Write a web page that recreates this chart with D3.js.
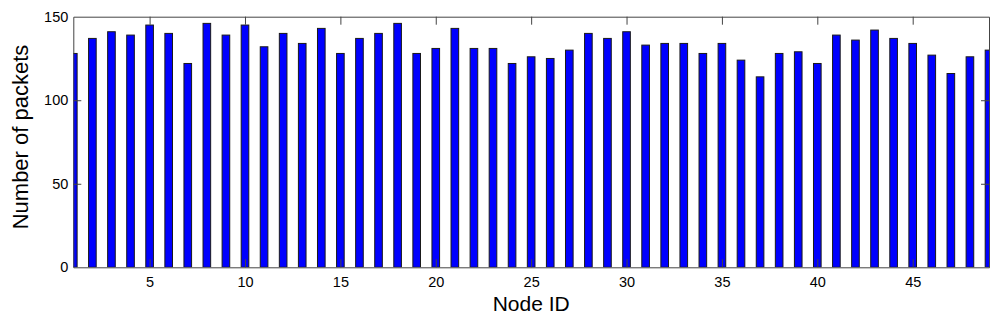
<!DOCTYPE html>
<html>
<head>
<meta charset="utf-8">
<script src="https://cdn.jsdelivr.net/npm/d3@7"></script>
<style>
  body { margin: 0; background: #fff; }
  text { font-family: Arial, "Liberation Sans", sans-serif; fill: #000; }
</style>
</head>
<body>
<svg width="1000" height="325"></svg>
<script>
// node ids and packet counts
var nodeIds = d3.range(1, 50);
var packets = [128,137,141,139,145,140,122,146,139,145,
               132,140,134,143,128,137,140,146,128,131,
               143,131,131,122,126,125,130,140,137,141,
               133,134,134,128,134,124,114,128,129,122,
               139,136,142,137,134,127,116,126,130];
var xTicks = [5,10,15,20,25,30,35,40,45];
var yTicks = [0,50,100,150];

var svg = d3.select("svg"),
    margin = {left: 73.3, right: 11, top: 16.7, bottom: 57.7},
    width = 1000 - margin.left - margin.right,
    height = 325 - margin.top - margin.bottom,
    tickLen = 8;

var x = d3.scaleLinear().domain([1, 49]).range([0, width]);
var y = d3.scaleLinear().domain([0, 150]).range([height, 0]);
var barW = (x(2) - x(1)) * 0.4;

var g = svg.append("g").attr("transform", "translate(" + margin.left + "," + margin.top + ")");

g.append("clipPath").attr("id", "plotclip")
  .append("rect").attr("width", width).attr("height", height);

var data = nodeIds.map(function(id, i) { return {id: id, v: packets[i]}; });

g.append("g").attr("clip-path", "url(#plotclip)")
  .selectAll("rect")
  .data(data)
  .enter().append("rect")
  .attr("x", function(d) { return x(d.id) - barW / 2; })
  .attr("y", function(d) { return y(d.v); })
  .attr("width", barW)
  .attr("height", function(d) { return y(0) - y(d.v); })
  .attr("fill", "#0000ff")
  .attr("stroke", "#1a1a1a")
  .attr("stroke-width", 1);

// axes - matlab style box with inward ticks
var xb = g.append("g").attr("transform", "translate(0," + height + ")")
  .call(d3.axisBottom(x).tickValues(xTicks).tickSizeInner(-tickLen).tickSizeOuter(0).tickPadding(9.5));
var xt = g.append("g")
  .call(d3.axisTop(x).tickValues(xTicks).tickSizeInner(-tickLen).tickSizeOuter(0).tickFormat(""));
var yl = g.append("g")
  .call(d3.axisLeft(y).tickValues(yTicks).tickSizeInner(-tickLen).tickSizeOuter(0).tickPadding(5));
var yr = g.append("g").attr("transform", "translate(" + width + ",0)")
  .call(d3.axisRight(y).tickValues(yTicks).tickSizeInner(-tickLen).tickSizeOuter(0).tickFormat(""));

[xb, xt, yl, yr].forEach(function(a) {
  a.selectAll("path").attr("stroke", "#444").attr("stroke-width", 1);
  a.selectAll("line").attr("stroke", "#444").attr("stroke-width", 1);
  a.selectAll("text").style("font-size", "14.5px").style("font-family", "Arial, 'Liberation Sans', sans-serif").attr("fill", "#000");
});
// remove the tick marks that sit on the box corners
yl.selectAll(".tick line").filter(function(d) { return d == 0 || d == 150; }).remove();
yr.selectAll(".tick line").filter(function(d) { return d == 0 || d == 150; }).remove();

svg.append("text")
  .attr("x", margin.left + width / 2)
  .attr("y", 311)
  .attr("text-anchor", "middle")
  .style("font-size", "21px")
  .text("Node ID");

svg.append("text")
  .attr("transform", "translate(28,137) rotate(-90)")
  .attr("text-anchor", "middle")
  .style("font-size", "22px")
  .text("Number of packets");
</script>
</body>
</html>
